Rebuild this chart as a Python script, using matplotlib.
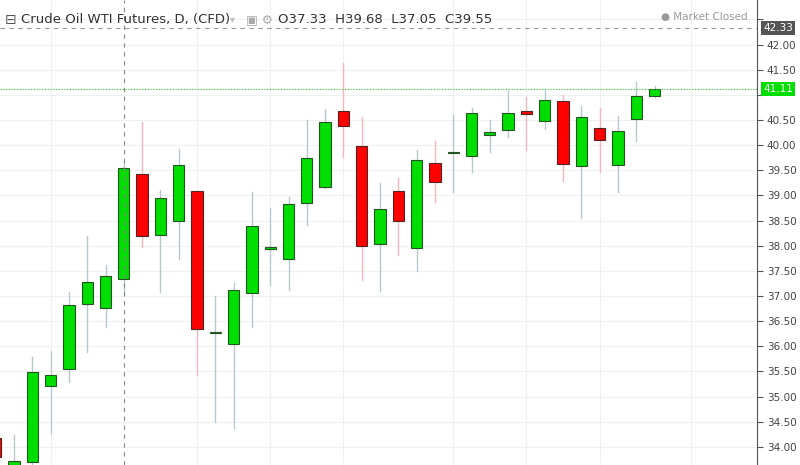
import matplotlib.pyplot as plt
from matplotlib.patches import Rectangle

# Daily OHLC values
opens = [34.18, 33.60, 33.69, 35.21, 35.55, 36.85, 36.76, 37.33, 39.42, 38.21, 38.50, 39.09,
         36.26, 36.04, 37.05, 37.94, 37.74, 38.85, 39.17, 40.68, 39.98, 38.04, 39.09, 37.95,
         39.64, 39.84, 39.78, 40.21, 40.31, 40.68, 40.48, 40.88, 39.59, 40.35, 39.60, 40.52, 40.98]
highs = [34.20, 34.24, 35.79, 35.91, 37.07, 38.19, 37.62, 39.68, 40.45, 39.11, 39.92, 39.09,
         37.00, 37.25, 39.06, 38.75, 38.97, 40.50, 40.71, 41.64, 40.55, 39.24, 39.34, 39.90,
         40.09, 40.60, 40.74, 40.50, 41.08, 40.95, 41.10, 41.00, 40.78, 40.73, 40.58, 41.26, 41.18]
lows = [33.70, 33.50, 33.60, 34.28, 35.30, 35.89, 36.39, 37.05, 37.97, 37.07, 37.74, 35.43,
        34.50, 34.38, 36.39, 37.22, 37.12, 38.41, 39.14, 39.77, 37.32, 37.10, 37.82, 37.50,
        38.86, 39.06, 39.47, 39.87, 40.17, 39.90, 40.32, 39.29, 38.56, 39.47, 39.07, 40.09, 40.95]
closes = [33.80, 33.72, 35.48, 35.43, 36.82, 37.28, 37.40, 39.55, 38.19, 38.94, 39.60, 36.34,
          36.26, 37.11, 38.39, 37.94, 38.83, 39.74, 40.46, 40.37, 38.00, 38.73, 38.49, 39.70,
          39.27, 39.84, 40.64, 40.27, 40.63, 40.61, 40.90, 39.62, 40.55, 40.10, 40.29, 40.98, 41.11]
week_starts = [3, 11, 15, 19, 25, 29, 33, 38]
last_price = 41.11
prev_high = 42.33
y_ticks = [34.0 + 0.5 * k for k in range(18)]

Y0, Y1 = 33.64, 42.885

fig = plt.figure(figsize=(8, 4.65), dpi=100)
ax = fig.add_axes([0, 0, 757 / 800, 1])
ax.set_xlim(0.235, 41.6)
ax.set_ylim(Y0, Y1)

for y in y_ticks:
    ax.axhline(y, color="#f0f0f0", lw=0.8, zorder=0)
for x in week_starts:
    ax.axvline(x, color="#f0f0f0", lw=0.8, zorder=0)

for i, (o, h, l, c) in enumerate(zip(opens, highs, lows, closes)):
    up = c >= o
    wick = "#b7c8cf" if up else "#f2b6bc"
    fill = "#00dd00" if up else "#ff0000"
    ax.plot([i, i], [l, h], color=wick, lw=1, zorder=1)
    bot, top = min(o, c), max(o, c)
    hgt = max(top - bot, 0.03)
    ax.add_patch(Rectangle((i - 0.31, bot), 0.62, hgt, facecolor=fill,
                           edgecolor="#225522" if up else "#552222", lw=0.8, zorder=2))

# crosshair and price lines
ax.axvline(7, color="#888888", lw=0.8, ls=(0, (4, 4)), zorder=3)
ax.axhline(prev_high, color="#999999", lw=0.8, ls=(0, (4, 4)), zorder=3)
ax.axhline(last_price, color="#22cc22", lw=0.8, ls=(0, (1, 1.5)), zorder=3)

ax.yaxis.tick_right()
ax.set_yticks(y_ticks)
# labels hidden behind the price boxes, as in the original
ax.set_yticklabels(["" if v in (41.0, 42.5) else f"{v:.2f}" for v in y_ticks])
ax.tick_params(axis="y", direction="out", length=4, color="#555555", labelsize=7.5,
               labelcolor="#444444", pad=3)
ax.set_xticks([])
for s in ["top", "left", "bottom"]:
    ax.spines[s].set_visible(False)
ax.spines["right"].set_color("#555555")

ax.text(1.008, (prev_high - Y0) / (Y1 - Y0), f"{prev_high:.2f}", transform=ax.transAxes,
        fontsize=7.5, color="white", va="center", ha="left",
        bbox=dict(boxstyle="square,pad=0.2", fc="#555555", ec="none"))
ax.text(1.008, (last_price - Y0) / (Y1 - Y0), f"{last_price:.2f}", transform=ax.transAxes,
        fontsize=7.5, color="white", va="center", ha="left",
        bbox=dict(boxstyle="square,pad=0.2", fc="#00dd00", ec="none"))

fig.text(0.026, 0.958, "Crude Oil WTI Futures, D, (CFD)", fontsize=9.5, color="#333333", va="center")
fig.text(0.013, 0.958, "\u229f", fontsize=10, color="#555555", va="center", ha="center")
fig.text(0.288, 0.958, "\u25be", fontsize=7, color="#bbbbbb", va="center")
fig.text(0.308, 0.958, "\u25a3 \u2699", fontsize=9, color="#aaaaaa", va="center")
fig.text(0.348, 0.958, "O37.33  H39.68  L37.05  C39.55", fontsize=9.5, color="#333333", va="center")
fig.text(0.935, 0.963, "\u25cf Market Closed", fontsize=7.5, color="#999999", va="center", ha="right")

fig.savefig("out.png", dpi=100)
